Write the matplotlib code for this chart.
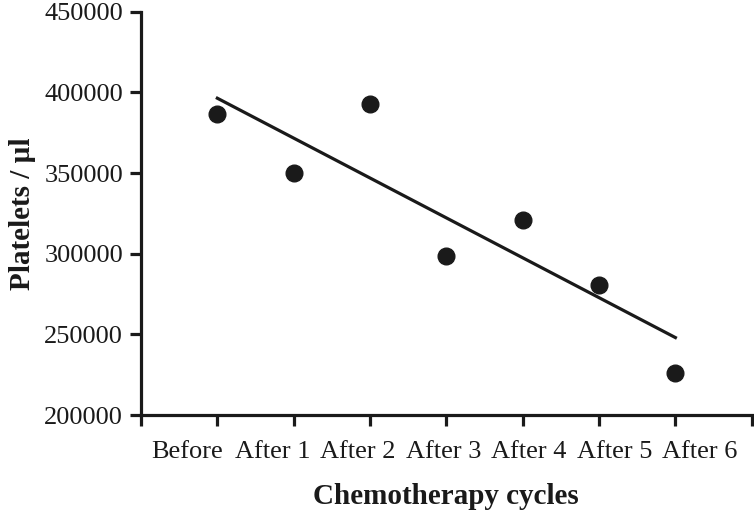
import numpy as np
import matplotlib
matplotlib.use("Agg")
import matplotlib.pyplot as plt

plt.rcParams['font.family'] = ['Liberation Serif', 'DejaVu Serif']

# cycle index and platelet counts
cycles = [1, 2, 3, 4, 5, 6, 7]
platelets = [386500, 350000, 393000, 298800, 321000, 280500, 226000]
cycle_labels = ["Before", "After 1", "After 2", "After 3", "After 4", "After 5", "After 6"]
y_ticks = [200000, 250000, 300000, 350000, 400000, 450000]

fig = plt.figure(figsize=(7.54, 5.15), dpi=100)
ax = fig.add_axes([0.187, 0.194, 0.810, 0.783])

ax.plot(cycles, platelets, 'o', color='#1a1a1a', markersize=12, zorder=3)

# linear regression line over the data range
slope, intercept = np.polyfit(cycles, platelets, 1)
xfit = np.array([cycles[0], cycles[-1]])
ax.plot(xfit, slope * xfit + intercept, color='#1a1a1a', linewidth=2.3)

ax.set_xlim(0, 8)
ax.set_ylim(200000, 450000)
ax.set_yticks(y_ticks)
ax.set_yticklabels([str(v) for v in y_ticks])

# major ticks at every cycle, labels placed as minor ticks (spread like the original)
ax.set_xticks(np.arange(0, 9))
ax.set_xticklabels([])
label_pos = 0.6 + 1.12 * np.arange(len(cycle_labels))
ax.set_xticks(label_pos, minor=True)
ax.set_xticklabels(cycle_labels, minor=True)
ax.tick_params(axis='x', which='minor', length=0, pad=19, labelsize=19, colors='#1a1a1a')
ax.tick_params(axis='x', which='major', length=8, width=2.3, direction='out', color='#1a1a1a')
ax.tick_params(axis='y', length=8, width=2.3, direction='out', labelsize=19, pad=5,
               colors='#1a1a1a')

for side in ['top', 'right']:
    ax.spines[side].set_visible(False)
for side in ['left', 'bottom']:
    ax.spines[side].set_linewidth(2.3)
    ax.spines[side].set_color('#1a1a1a')

ax.set_ylabel("Platelets / µl", fontsize=21, fontweight='bold', labelpad=6, color='#1a1a1a')
ax.set_xlabel("Chemotherapy cycles", fontsize=21, fontweight='bold', labelpad=14, color='#1a1a1a')

fig.savefig("out.png", dpi=100)
